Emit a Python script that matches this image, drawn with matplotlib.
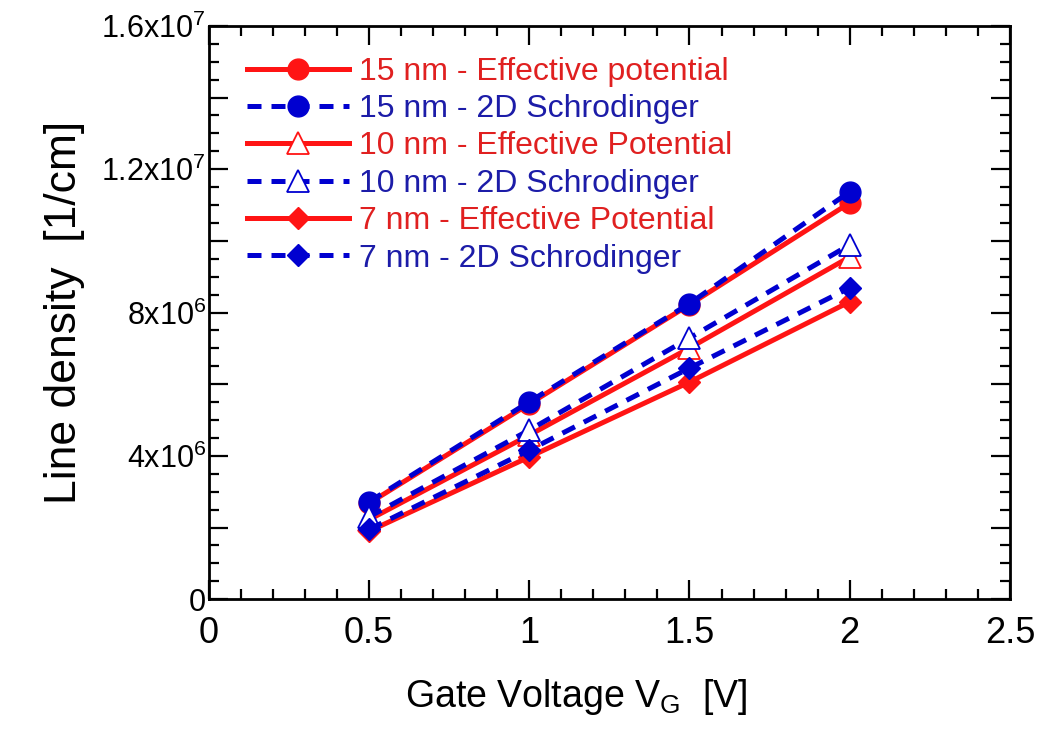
import numpy as np
import matplotlib
matplotlib.use('Agg')
import matplotlib.pyplot as plt
from matplotlib.ticker import MultipleLocator, FuncFormatter

plt.rcParams['font.family'] = ['Liberation Sans', 'DejaVu Sans']
plt.rcParams['mathtext.fontset'] = 'custom'
plt.rcParams['mathtext.rm'] = 'Liberation Sans'
plt.rcParams['mathtext.it'] = 'Liberation Sans'

# data
vg = [0.5, 1.0, 1.5, 2.0]
n15_ep = [2.68e6, 5.45e6, 8.22e6, 11.06e6]
n15_2d = [2.72e6, 5.51e6, 8.25e6, 11.37e6]
n10_ep = [2.22e6, 4.58e6, 7.01e6, 9.55e6]
n10_2d = [2.30e6, 4.72e6, 7.29e6, 9.89e6]
n7_ep = [1.90e6, 3.97e6, 6.06e6, 8.30e6]
n7_2d = [1.95e6, 4.16e6, 6.45e6, 8.69e6]

labels = ['15 nm - Effective potential', '15 nm - 2D Schrodinger',
          '10 nm - Effective Potential', '10 nm - 2D Schrodinger',
          '7 nm - Effective Potential', '7 nm - 2D Schrodinger']

red = '#ff1414'
blue = '#0000d0'
red_txt = '#e02020'
blue_txt = '#1c1ca8'

fig = plt.figure(figsize=(10.39, 7.38), dpi=100)
ax = fig.add_axes([0.201, 0.188, 0.771, 0.777])

lw = 3.6
dsh = (2.8, 2.0)
ax.plot(vg, n15_ep, '-', color=red, lw=lw, marker='o', ms=15, label=labels[0], zorder=3)
ax.plot(vg, n15_2d, '--', color=blue, lw=lw, dashes=dsh, marker='o', ms=15, label=labels[1], zorder=4)
ax.plot(vg, n10_ep, '-', color=red, lw=lw, marker='^', ms=16, mfc='white', mec=red, mew=1.3, label=labels[2], zorder=3)
ax.plot(vg, n10_2d, '--', color=blue, lw=lw, dashes=dsh, marker='^', ms=16, mfc='white', mec=blue, mew=1.3, label=labels[3], zorder=4)
ax.plot(vg, n7_ep, '-', color=red, lw=lw, marker='D', ms=11, label=labels[4], zorder=3)
ax.plot(vg, n7_2d, '--', color=blue, lw=lw, dashes=dsh, marker='D', ms=11, label=labels[5], zorder=4)

ax.set_xlim(0, 2.5)
ax.set_ylim(0, 1.6e7)
ax.xaxis.set_major_locator(MultipleLocator(0.5))
ax.xaxis.set_minor_locator(MultipleLocator(0.1))
ax.yaxis.set_major_locator(MultipleLocator(2e6))
ax.yaxis.set_minor_locator(MultipleLocator(5e5))


def xfmt(v, pos):
    if abs(v - round(v)) < 1e-9:
        return '%d' % round(v)
    return '%g' % v


def yfmt(v, pos):
    m = int(round(v / 1e6))
    if m == 0:
        return '0'
    if m % 4 != 0:
        return ''
    if m < 10:
        return r'%dx10$^{6}$' % m
    return r'%gx10$^{7}$' % (m / 10.0)


ax.xaxis.set_major_formatter(FuncFormatter(xfmt))
ax.yaxis.set_major_formatter(FuncFormatter(yfmt))

ax.tick_params(which='both', direction='in', top=True, right=True, width=1.6, color='black')
ax.tick_params(which='major', length=14)
ax.tick_params(which='minor', length=7)
ax.tick_params(axis='x', which='major', labelsize=26, pad=12)
ax.tick_params(axis='y', which='major', labelsize=22, pad=2)
for s in ax.spines.values():
    s.set_linewidth(2.0)

ax.set_xlabel(r'Gate Voltage V$_{\mathregular{G}}$  [V]', fontsize=27)
ax.xaxis.set_label_coords(0.458, -0.135)
ax.set_ylabel('Line density  [1/cm]', fontsize=32, labelpad=12)

leg = ax.legend(loc='upper left', frameon=False, fontsize=23, handlelength=3.2,
                handletextpad=0.3, labelspacing=0.23, borderaxespad=0.3,
                bbox_to_anchor=(0.02, 0.985))
for txt, c in zip(leg.get_texts(), [red_txt, blue_txt, red_txt, blue_txt, red_txt, blue_txt]):
    txt.set_color(c)

fig.savefig('out.png', dpi=100)
